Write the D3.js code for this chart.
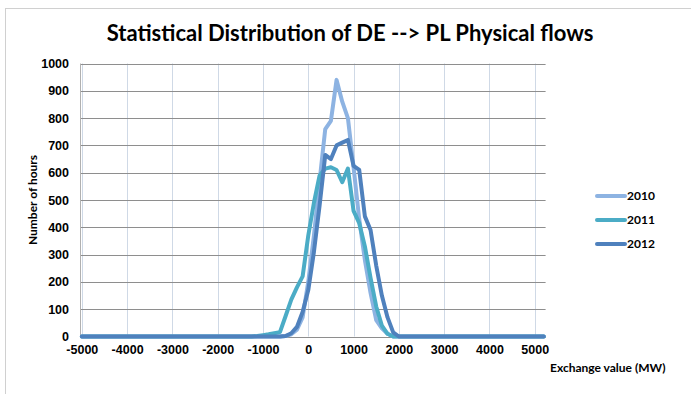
<!DOCTYPE html>
<html lang="en">
<head>
    <meta charset="UTF-8">
    <title>Statistical Distribution of DE --> PL Physical flows</title>
    <script src="https://cdn.jsdelivr.net/npm/d3@7/dist/d3.min.js"></script>
    <style>
        body { margin: 0; background: #fff; }
        svg { display: block; font-family: "Lato", "Open Sans", sans-serif; }
        .tick-label { font-size: 12.5px; font-weight: bold; fill: #000; }
        .axis-label { font-size: 12px; font-weight: bold; fill: #000; }
    </style>
</head>
<body>
    <svg id="chart" width="691" height="394"></svg>
    <script>
        // Exchange value bins (MW)
        const exchangeValues = [-5000, -1250, -1125, -1000, -875, -750, -625, -500, -375, -250, -125, 0,
            125, 250, 375, 500, 625, 750, 875, 1000, 1125, 1250, 1375, 1500, 1625, 1750, 1875, 2000, 2125, 5200];

        // Number of hours per bin
        const hours2010 = [0, 0, 0, 0, 0, 0, 0, 2, 8, 25, 70, 200, 370, 570, 760, 790,
            940, 860, 800, 620, 430, 280, 160, 60, 30, 10, 0, 0, 0, 0];
        const hours2011 = [0, 0, 2, 5, 8, 12, 16, 75, 135, 180, 220, 370, 490, 590, 615, 620,
            610, 565, 615, 460, 415, 330, 215, 110, 40, 10, 0, 0, 0, 0];
        const hours2012 = [0, 0, 0, 0, 0, 0, 0, 2, 12, 35, 90, 170, 310, 480, 665, 650,
            700, 710, 720, 625, 610, 440, 390, 260, 150, 70, 15, 0, 0, 0];

        const seriesNames = ['2010', '2011', '2012'];
        const seriesColors = ['#8db3e2', '#4bacc6', '#4f81bd'];
        const xTicks = [-5000, -4000, -3000, -2000, -1000, 0, 1000, 2000, 3000, 4000, 5000];
        const yTicks = [0, 100, 200, 300, 400, 500, 600, 700, 800, 900, 1000];

        const series = [hours2010, hours2011, hours2012].map((vals, i) => ({
            name: seriesNames[i],
            color: seriesColors[i],
            points: exchangeValues.map((x, j) => ({ x: x, y: vals[j] }))
        }));

        const svg = d3.select('#chart');

        // Chart area border
        svg.append('rect')
            .attr('x', 5.5).attr('y', 8.5)
            .attr('width', 720).attr('height', 420)
            .attr('fill', 'none')
            .attr('stroke', '#d0d0d0');

        // Plot area
        const plot = { left: 80, right: 545.6, top: 63.5, bottom: 336.5 };

        const xScale = d3.scaleLinear()
            .domain([-5040, 5240])
            .range([plot.left, plot.right]);

        const yScale = d3.scaleLinear()
            .domain([0, 1000])
            .range([plot.bottom, plot.top]);

        // Vertical grid lines
        svg.selectAll('.x-grid')
            .data(xTicks)
            .enter()
            .append('line')
            .attr('x1', d => Math.round(xScale(d)) + 0.5)
            .attr('x2', d => Math.round(xScale(d)) + 0.5)
            .attr('y1', plot.top)
            .attr('y2', plot.bottom)
            .attr('stroke', '#cfd9e6')
            .attr('stroke-width', 1);

        // Horizontal grid lines
        svg.selectAll('.y-grid')
            .data(yTicks)
            .enter()
            .append('line')
            .attr('x1', plot.left)
            .attr('x2', plot.right)
            .attr('y1', d => Math.round(yScale(d)) + 0.5)
            .attr('y2', d => Math.round(yScale(d)) + 0.5)
            .attr('stroke', '#8e8e8e')
            .attr('stroke-width', 1);

        // Y axis line
        svg.append('line')
            .attr('x1', plot.left + 0.5).attr('x2', plot.left + 0.5)
            .attr('y1', plot.top).attr('y2', plot.bottom)
            .attr('stroke', '#b0b0b0');

        // Tick labels via d3 axes (no domain/tick lines), plain hyphen minus, no thousands separator
        const plainNumber = d => String(d);

        const yAxis = svg.append('g')
            .attr('transform', `translate(${plot.left - 4},0)`)
            .call(d3.axisLeft(yScale).tickValues(yTicks).tickFormat(plainNumber).tickSize(0).tickPadding(7));
        yAxis.select('.domain').remove();
        yAxis.selectAll('text').attr('class', 'tick-label').attr('font-family', null).attr('font-size', null);

        const xAxis = svg.append('g')
            .attr('transform', `translate(0,${plot.bottom + 5})`)
            .call(d3.axisBottom(xScale).tickValues(xTicks).tickFormat(plainNumber).tickSize(0).tickPadding(4));
        xAxis.select('.domain').remove();
        xAxis.selectAll('text').attr('class', 'tick-label').attr('font-family', null).attr('font-size', null);

        // Lines
        const line = d3.line()
            .x(d => xScale(d.x))
            .y(d => yScale(d.y));

        svg.selectAll('.series')
            .data(series)
            .enter()
            .append('path')
            .attr('class', 'series')
            .attr('d', d => line(d.points))
            .attr('fill', 'none')
            .attr('stroke', d => d.color)
            .attr('stroke-width', 4)
            .attr('stroke-linejoin', 'round')
            .attr('stroke-linecap', 'round');

        // Title
        svg.append('text')
            .attr('x', 350)
            .attr('y', 41)
            .attr('text-anchor', 'middle')
            .style('font-size', '22px')
            .style('font-weight', 'bold')
            .text('Statistical Distribution of DE --> PL Physical flows');

        // Axis titles
        svg.append('text')
            .attr('class', 'axis-label')
            .attr('transform', 'translate(37,200) rotate(-90)')
            .attr('text-anchor', 'middle')
            .text('Number of hours');

        svg.append('text')
            .attr('class', 'axis-label')
            .attr('x', 550)
            .attr('y', 372)
            .text('Exchange value (MW)');

        // Legend
        const legend = svg.append('g')
            .attr('transform', 'translate(597,196)');

        series.forEach((s, i) => {
            const item = legend.append('g')
                .attr('transform', `translate(0,${i * 24})`);
            item.append('line')
                .attr('x1', 0).attr('x2', 28)
                .attr('stroke', s.color)
                .attr('stroke-width', 4)
                .attr('stroke-linecap', 'round');
            item.append('text')
                .attr('class', 'axis-label')
                .attr('x', 30)
                .attr('dy', '0.35em')
                .text(s.name);
        });
    </script>
</body>
</html>
